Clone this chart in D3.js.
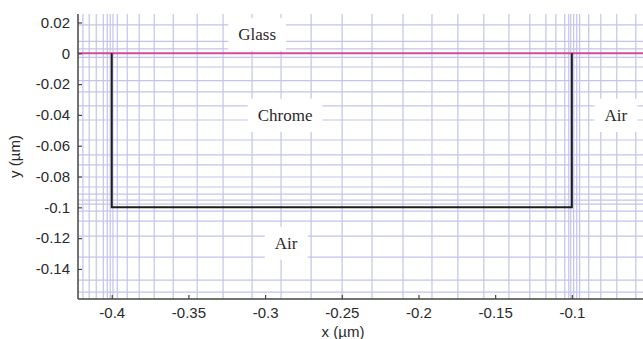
<!DOCTYPE html>
<html>
<head>
<meta charset="utf-8">
<script src="https://cdn.jsdelivr.net/npm/d3@7"></script>
<style>
    body { margin: 0; background: #fff; }
    .tick-label { font-family: "Liberation Sans", Arial, sans-serif; font-size: 15px; fill: #2a2a2a; }
    .region-label { font-family: "Liberation Serif", "Times New Roman", serif; font-size: 17px; fill: #2a2a2a; }
</style>
</head>
<body>
<div id="chart"></div>
<script>
// tick values
const xTicks = [-0.4, -0.35, -0.3, -0.25, -0.2, -0.15, -0.1];
const yTicks = [0.02, 0, -0.02, -0.04, -0.06, -0.08, -0.1, -0.12, -0.14];

// mesh lines
const meshX = [-0.4188, -0.4147, -0.4101, -0.4055, -0.4029, -0.401, -0.3992, -0.3964, -0.3899,
    -0.3821, -0.3723, -0.3599, -0.3443, -0.3274, -0.3085, -0.2896, -0.27, -0.2498, -0.2303,
    -0.2101, -0.1912, -0.1743, -0.1574, -0.141, -0.1274, -0.1169, -0.1104, -0.1046, -0.102,
    -0.1007, -0.0988, -0.0968, -0.0949, -0.089, -0.0811, -0.0707, -0.0583];
const meshY = [0.0184, 0.0077, 0.0028, -0.0027, -0.0089, -0.0177, -0.0251, -0.0342, -0.0433,
    -0.0563, -0.066, -0.0725, -0.0803, -0.0868, -0.0914, -0.0953, -0.0979, -0.1025, -0.109,
    -0.1187, -0.1323, -0.1473, -0.1551];

// glass / chrome interface and chrome outline
const interfaceY = [0];
const chromeOutline = [[-0.4, 0], [-0.4, -0.1], [-0.1, -0.1], [-0.1, 0]];

// region labels
const labelText = ["Glass", "Chrome", "Air", "Air"];
const labelX = [-0.3052, -0.287, -0.2863, -0.0713];
const labelY = [0.0125, -0.040, -0.123, -0.040];

const width = 643, height = 339;
const plot = {left: 78, right: 643, top: 14, bottom: 299};

const svg = d3.select("#chart").append("svg")
    .attr("width", width)
    .attr("height", height);

const x = d3.scaleLinear()
    .domain([-0.422, -0.0536])
    .range([plot.left, plot.right]);

const y = d3.scaleLinear()
    .domain([-0.1595, 0.0255])
    .range([plot.bottom, plot.top]);

// mesh
svg.append("g").selectAll("line")
    .data(meshX)
    .join("line")
    .attr("x1", d => x(d)).attr("x2", d => x(d))
    .attr("y1", plot.top).attr("y2", plot.bottom)
    .attr("stroke", "#c3c3ec")
    .attr("stroke-width", 1.2);

svg.append("g").selectAll("line")
    .data(meshY)
    .join("line")
    .attr("x1", plot.left).attr("x2", plot.right)
    .attr("y1", d => y(d)).attr("y2", d => y(d))
    .attr("stroke", "#c3c3ec")
    .attr("stroke-width", 1.2);

// interface line
svg.append("g").selectAll("line")
    .data(interfaceY)
    .join("line")
    .attr("x1", plot.left).attr("x2", plot.right)
    .attr("y1", d => y(d)).attr("y2", d => y(d))
    .attr("stroke", "#d64a9c")
    .attr("stroke-width", 2);

// chrome outline
let line = d3.line()
    .x(d => x(d[0]))
    .y(d => y(d[1]));
svg.append("path")
    .attr("d", line(chromeOutline))
    .attr("fill", "none")
    .attr("stroke", "#1c1c1c")
    .attr("stroke-width", 2);

// region labels with white boxes
let labels = svg.append("g").selectAll("g")
    .data(labelText)
    .join("g")
    .attr("transform", (d, i) => `translate(${x(labelX[i])},${y(labelY[i])})`);
labels.append("rect").attr("fill", "#fff");
labels.append("text")
    .attr("class", "region-label")
    .attr("text-anchor", "middle")
    .attr("dy", "0.35em")
    .text(d => d);
labels.each(function() {
    let g = d3.select(this);
    let bb = g.select("text").node().getBBox();
    g.select("rect")
        .attr("x", bb.x - 10).attr("y", bb.y - 7)
        .attr("width", bb.width + 20).attr("height", bb.height + 14);
});

// axes
const xAxis = d3.axisBottom(x)
    .tickValues(xTicks)
    .tickSize(-4)
    .tickPadding(8)
    .tickFormat(d => String(+d.toFixed(2)));
const yAxis = d3.axisLeft(y)
    .tickValues(yTicks)
    .tickSize(-4)
    .tickPadding(8)
    .tickFormat(d => String(+d.toFixed(2)));

let gx = svg.append("g")
    .attr("transform", `translate(0,${plot.bottom})`)
    .call(xAxis);
let gy = svg.append("g")
    .attr("transform", `translate(${plot.left},0)`)
    .call(yAxis);

[gx, gy].forEach(g => {
    g.select(".domain").remove();
    g.selectAll(".tick line").attr("stroke", "#444").attr("stroke-width", 1.2);
    g.selectAll(".tick text").attr("class", "tick-label").attr("font-family", null).attr("font-size", null);
});

// axis lines (left and bottom only)
svg.append("line")
    .attr("x1", plot.left).attr("x2", plot.left)
    .attr("y1", plot.top).attr("y2", plot.bottom)
    .attr("stroke", "#444").attr("stroke-width", 1.5);
svg.append("line")
    .attr("x1", plot.left).attr("x2", plot.right)
    .attr("y1", plot.bottom).attr("y2", plot.bottom)
    .attr("stroke", "#444").attr("stroke-width", 1.5);

// axis titles
svg.append("text")
    .attr("class", "tick-label")
    .attr("text-anchor", "middle")
    .attr("transform", `translate(343,${height - 2})`)
    .text("x (\u00b5m)");

svg.append("text")
    .attr("class", "tick-label")
    .attr("text-anchor", "middle")
    .attr("transform", `translate(20,${(plot.top + plot.bottom) / 2}) rotate(-90)`)
    .text("y (\u00b5m)");
</script>
</body>
</html>
